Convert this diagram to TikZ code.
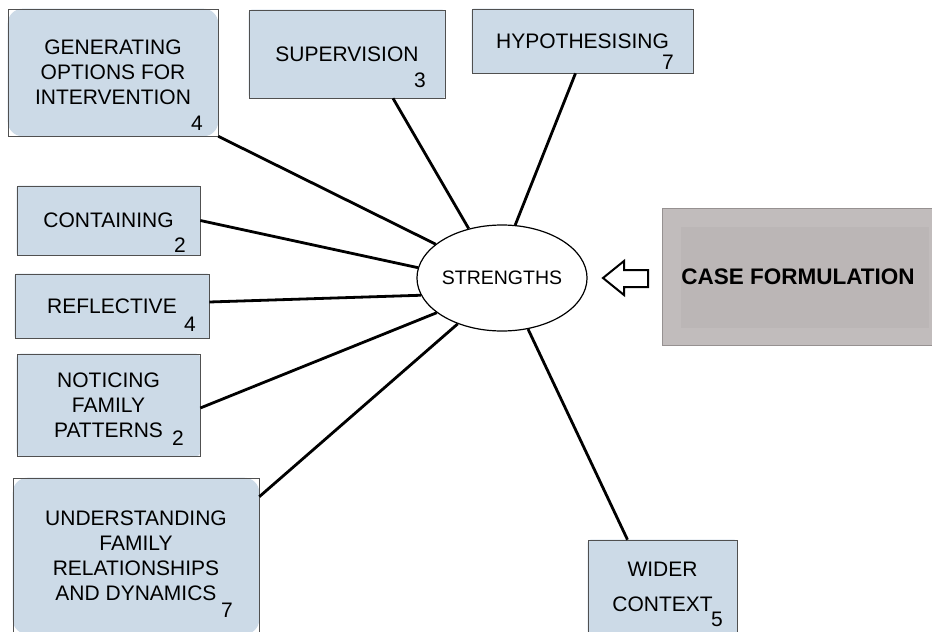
\documentclass[tikz,border=0pt]{standalone}
\usepackage{fontspec}
\setmainfont{Liberation Sans}
\usetikzlibrary{shapes.geometric,backgrounds}
\definecolor{skillblue}{RGB}{204,218,231}
\definecolor{framegray}{RGB}{80,80,80}
\definecolor{caseouter}{RGB}{193,188,188}
\definecolor{caseinner}{RGB}{187,182,182}
\definecolor{caseframe}{RGB}{150,145,145}
\newcommand{\boxfont}{\fontsize{21}{25}\selectfont}

\begin{document}
\begin{tikzpicture}[x=1pt, y=-1pt,
        skill/.style={draw=framegray, line width=0.6pt, inner sep=0pt, align=center, font=\boxfont},
        score/.style={inner sep=0pt, font=\boxfont},
        spoke/.style={draw=black, line width=2.8pt},
        hub/.style={ellipse, draw=black, line width=1.2pt, fill=white, inner sep=0pt,
            minimum width=166pt, minimum height=106pt, font=\fontsize{19.5}{22}\selectfont}]
    \useasboundingbox (0,0) rectangle (932,632);

    \node[skill, minimum width=210pt, minimum height=127pt] (gen) at (113,72.5) {GENERATING\\OPTIONS FOR\\INTERVENTION};
    \node[skill, minimum width=196pt, minimum height=88pt] (sup) at (347,54) {SUPERVISION};
    \node[skill, minimum width=221pt, minimum height=64pt] (hyp) at (582.5,41) {HYPOTHESISING};
    \node[skill, minimum width=183pt, minimum height=69pt] (cont) at (108.5,220.5) {CONTAINING};
    \node[skill, minimum width=194pt, minimum height=64pt] (refl) at (112,306) {REFLECTIVE};
    \node[skill, minimum width=183pt, minimum height=102pt] (noti) at (108.5,405) {NOTICING\\FAMILY\\PATTERNS};
    \node[skill, minimum width=246pt, minimum height=156pt] (und) at (136,556) {UNDERSTANDING\\FAMILY\\RELATIONSHIPS\\AND DYNAMICS};
    \node[skill, minimum width=149pt, minimum height=94pt] (wid) at (662.5,587) {WIDER\\[10pt]CONTEXT};

    \node[score] (gen-n) at (197,123) {4};
    \node[score] (sup-n) at (420,80) {3};
    \node[score] (hyp-n) at (668,62) {7};
    \node[score] (cont-n) at (180,245) {2};
    \node[score] (refl-n) at (190,324) {4};
    \node[score] (noti-n) at (178,438) {2};
    \node[score] (und-n) at (227,610) {7};
    \node[score] (wid-n) at (717,619) {5};

    \node[hub] (str) at (502,278) {STRENGTHS};

    \node[draw=caseframe, line width=1pt, minimum width=272pt, minimum height=137pt,
        font=\fontsize{22.5}{25}\selectfont\bfseries] (case) at (798,276.5) {CASE FORMULATION};

    \begin{scope}[on background layer]
        \fill[skillblue, rounded corners=15pt] (gen.south west) rectangle (gen.north east);
        \fill[skillblue, rounded corners=3pt] (sup.south west) rectangle (sup.north east);
        \fill[skillblue, rounded corners=2pt] (hyp.south west) rectangle (hyp.north east);
        \fill[skillblue, rounded corners=2pt] (cont.south west) rectangle (cont.north east);
        \fill[skillblue, rounded corners=2pt] (refl.south west) rectangle (refl.north east);
        \fill[skillblue, rounded corners=4pt] (noti.south west) rectangle (noti.north east);
        \fill[skillblue, rounded corners=15pt] (und.south west) rectangle (und.north east);
        \fill[skillblue, rounded corners=3pt] (wid.south west) rectangle (wid.north east);
        \fill[caseouter] (case.south west) rectangle (case.north east);
        \fill[caseinner] ([shift={(19pt,-19pt)}]case.north west) rectangle ([shift={(-6pt,18pt)}]case.south east);
    \end{scope}

    \draw[spoke] (gen.south east) -- (str.153);
    \draw[spoke] ([xshift=46pt]sup.south) -- (str.124);
    \draw[spoke] ([xshift=-7pt]hyp.south) -- (str.76);
    \draw[spoke] (cont.east) -- (str.173);
    \draw[spoke] ([yshift=4pt]refl.east) -- (str.192);
    \draw[spoke] ([yshift=-3pt]noti.east) -- (str.208);
    \draw[spoke] ([yshift=-19pt]und.north east) -- (str.226);
    \draw[spoke] ([xshift=-35pt]wid.north) -- (str.297);

    \draw[line width=2pt, line join=miter] (603,278) -- (624,261) -- (624,270) -- (648,270)
        -- (648,287) -- (624,287) -- (624,295) -- cycle;
\end{tikzpicture}
\end{document}
